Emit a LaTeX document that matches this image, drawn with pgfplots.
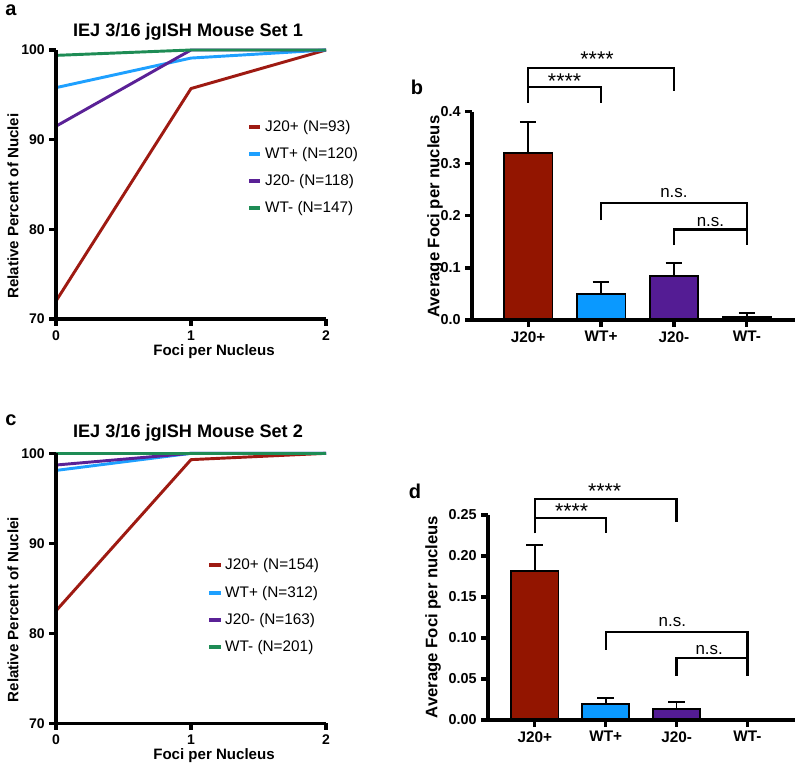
\documentclass[border=0pt]{standalone}
\usepackage{fontspec}
\setmainfont{Liberation Sans}
\usepackage{pgfplots}
\pgfplotsset{compat=1.18}
\definecolor{cred}{HTML}{9E1A12}
\definecolor{cblue}{HTML}{1EA0FF}
\definecolor{cpurple}{HTML}{5A2196}
\definecolor{cgreen}{HTML}{1E8C55}
\definecolor{bred}{HTML}{931500}
\definecolor{bblue}{HTML}{0A99FF}
\definecolor{bpurple}{HTML}{541C94}
\definecolor{bgreen}{HTML}{1E7A45}
\tikzset{br/.style={line width=1.7pt, black},
  axl/.style={line width=2.4pt, black, line join=miter},
  ast/.style={font=\fontsize{16}{17}\selectfont, inner sep=0pt, anchor=north},
  ns/.style={font=\fontsize{12.7}{14}\selectfont, inner sep=0pt}}
\pgfplotsset{
 base/.style={scale only axis, axis lines=left, axis line style={-, line width=2.4pt},
   tick align=outside, major tick length=5pt, tick style={line width=1.8pt, black},
   minor tick num=0,
   ticklabel style={font=\fontsize{10.5}{12}\selectfont\bfseries},
   /pgf/number format/assume math mode=true, clip=false},
 lineaxis/.style={base, width=202.5pt, xmin=0, xmax=2, ymin=70, ymax=100,
   xtick={0,1,2}, ytick={70,80,90,100}, legend cell align=left,
   legend style={draw=none, fill=none, inner sep=0pt, font=\fontsize{11.5}{13}\selectfont, row sep=6.5pt, anchor=north west},
   legend image code/.code={\draw[line width=3pt] (0pt,0pt) -- (8.5pt,0pt);}},
 barax/.style={base, xtick={0,1,2,3}, xticklabels={J20+,WT+,J20-,WT-}, ybar, bar shift=0pt, bar width=0.667,
   scaled y ticks=false,
   xticklabel style={font=\fontsize{11.5}{13}\selectfont\bfseries},
   yticklabel style={font=\fontsize{10.8}{13}\selectfont\bfseries, /pgf/number format/fixed, /pgf/number format/fixed zerofill},
   every axis plot/.append style={draw=black, line width=1.3pt,
     error bars/y dir=plus, error bars/y explicit,
     error bars/error mark options={rotate=90, black, line width=1.3pt, mark size=6.25pt},
     error bars/error bar style={line width=1.3pt, black}}},
}
\begin{document}
\begin{tikzpicture}
\useasboundingbox (0,0) rectangle (600pt,575.25pt);
% ---------- panel a
\begin{axis}[lineaxis, height=201.75pt, at={(42pt,336pt)}, anchor=south west,
  legend style={at={(rel axis cs:0.707,0.75)}}]
\addplot[cred, line width=2.2pt, line join=round] coordinates {(0,72.0) (1,95.7) (2,100)};
\addlegendentry{J20+ (N=93)}
\addplot[cblue, line width=2.2pt, line join=round] coordinates {(0,95.8) (1,99.1) (2,100)};
\addlegendentry{WT+ (N=120)}
\addplot[cpurple, line width=2.2pt, line join=round] coordinates {(0,91.5) (1,100) (2,100)};
\addlegendentry{J20- (N=118)}
\addplot[cgreen, line width=2.2pt, line join=round] coordinates {(0,99.4) (1,100) (2,100)};
\addlegendentry{WT- (N=147)}
\draw[axl] (axis cs:0,100) -- (axis cs:0,70) -- (axis cs:2,70)
  (axis cs:0,70) -- ++(0pt,-5pt) (axis cs:1,70) -- ++(0pt,-5pt) (axis cs:2,70) -- ++(0pt,-5pt)
  (axis cs:0,70) -- ++(-5pt,0pt) (axis cs:0,80) -- ++(-5pt,0pt) (axis cs:0,90) -- ++(-5pt,0pt) (axis cs:0,100) -- ++(-5pt,0pt);
\end{axis}
% ---------- panel c
\begin{axis}[lineaxis, height=202.5pt, at={(42pt,32.75pt)}, anchor=south west,
  legend style={at={(rel axis cs:0.559,0.62)}}]
\addplot[cred, line width=2.2pt, line join=round] coordinates {(0,82.5) (1,99.3) (2,100)};
\addlegendentry{J20+ (N=154)}
\addplot[cblue, line width=2.2pt, line join=round] coordinates {(0,98.1) (1,100) (2,100)};
\addlegendentry{WT+ (N=312)}
\addplot[cpurple, line width=2.2pt, line join=round] coordinates {(0,98.7) (1,100) (2,100)};
\addlegendentry{J20- (N=163)}
\addplot[cgreen, line width=2.2pt, line join=round] coordinates {(0,100) (1,100) (2,100)};
\addlegendentry{WT- (N=201)}
\draw[axl] (axis cs:0,100) -- (axis cs:0,70) -- (axis cs:2,70)
  (axis cs:0,70) -- ++(0pt,-5pt) (axis cs:1,70) -- ++(0pt,-5pt) (axis cs:2,70) -- ++(0pt,-5pt)
  (axis cs:0,70) -- ++(-5pt,0pt) (axis cs:0,80) -- ++(-5pt,0pt) (axis cs:0,90) -- ++(-5pt,0pt) (axis cs:0,100) -- ++(-5pt,0pt);
\end{axis}
% ---------- panel b
\begin{axis}[barax, width=242.25pt, height=156.2pt, at={(354pt,335.25pt)}, anchor=south west,
  xmin=-0.77, xmax=3.66, ymin=0, ymax=0.4, ytick={0,0.1,0.2,0.3,0.4},
  yticklabel style={/pgf/number format/precision=1}]
\addplot[fill=bred] coordinates {(0,0.321) +- (0,0.059)};
\addplot[fill=bblue] coordinates {(1,0.0493) +- (0,0.0231)};
\addplot[fill=bpurple] coordinates {(2,0.0845) +- (0,0.0249)};
\addplot[fill=bgreen] coordinates {(3,0.0064) +- (0,0.0064)};
\draw[axl] (axis cs:-0.77,0.4) -- (axis cs:-0.77,0) -- (axis cs:3.66,0)
  (axis cs:0,0) -- ++(0pt,-5pt) (axis cs:1,0) -- ++(0pt,-5pt) (axis cs:2,0) -- ++(0pt,-5pt) (axis cs:3,0) -- ++(0pt,-5pt)
  (axis cs:-0.77,0) -- ++(-5pt,0pt) (axis cs:-0.77,0.1) -- ++(-5pt,0pt) (axis cs:-0.77,0.2) -- ++(-5pt,0pt) (axis cs:-0.77,0.3) -- ++(-5pt,0pt) (axis cs:-0.77,0.4) -- ++(-5pt,0pt);
\draw[br] (axis cs:0,0.4173) -- (axis cs:0,0.4833) -- (axis cs:2,0.4833) -- (axis cs:2,0.4398);
\draw[br] (axis cs:0,0.4469) -- (axis cs:1,0.4469) -- (axis cs:1,0.4173);
\node[ast] at (axis cs:0.945,0.5152) {****};
\node[ast] at (axis cs:0.5,0.4737) {****};
\draw[br] (axis cs:1,0.192) -- (axis cs:1,0.224) -- (axis cs:3,0.224) -- (axis cs:3,0.144);
\draw[br] (axis cs:2,0.144) -- (axis cs:2,0.174) -- (axis cs:3,0.174);
\node[ns] at (axis cs:2.0,0.243) {n.s.};
\node[ns] at (axis cs:2.5,0.189) {n.s.};
\end{axis}
% ---------- panel d
\begin{axis}[barax, width=230.25pt, height=153.75pt, at={(366pt,35.25pt)}, anchor=south west,
  xmin=-0.66, xmax=3.67, ymin=0, ymax=0.25, ytick={0,0.05,0.1,0.15,0.2,0.25},
  yticklabel style={/pgf/number format/precision=2}]
\addplot[fill=bred] coordinates {(0,0.1817) +- (0,0.0317)};
\addplot[fill=bblue] coordinates {(1,0.0195) +- (0,0.0077)};
\addplot[fill=bpurple] coordinates {(2,0.0130) +- (0,0.0086)};
\addplot[fill=bgreen, error bars/y explicit=false, error bars/y dir=none] coordinates {(3,0)};
\draw[axl] (axis cs:-0.66,0.25) -- (axis cs:-0.66,0) -- (axis cs:3.67,0)
  (axis cs:0,0) -- ++(0pt,-5pt) (axis cs:1,0) -- ++(0pt,-5pt) (axis cs:2,0) -- ++(0pt,-5pt) (axis cs:3,0) -- ++(0pt,-5pt)
  (axis cs:-0.66,0) -- ++(-5pt,0pt) (axis cs:-0.66,0.05) -- ++(-5pt,0pt) (axis cs:-0.66,0.1) -- ++(-5pt,0pt) (axis cs:-0.66,0.15) -- ++(-5pt,0pt) (axis cs:-0.66,0.2) -- ++(-5pt,0pt) (axis cs:-0.66,0.25) -- ++(-5pt,0pt);
\draw[br] (axis cs:0,0.2277) -- (axis cs:0,0.2691) -- (axis cs:2,0.2691) -- (axis cs:2,0.2418);
\draw[br] (axis cs:0,0.2467) -- (axis cs:1,0.2467) -- (axis cs:1,0.2277);
\node[ast] at (axis cs:0.986,0.2887) {****};
\node[ast] at (axis cs:0.52,0.2643) {****};
\draw[br] (axis cs:1,0.0854) -- (axis cs:1,0.107) -- (axis cs:3,0.107) -- (axis cs:3,0.0537);
\draw[br] (axis cs:2,0.0537) -- (axis cs:2,0.0752) -- (axis cs:3,0.0752);
\node[ns] at (axis cs:1.94,0.12) {n.s.};
\node[ns] at (axis cs:2.46,0.0854) {n.s.};
\end{axis}
% ---------- texts
\node[font=\fontsize{15}{17}\selectfont\bfseries] at (8.25pt,567.75pt) {a};
\node[font=\fontsize{15}{17}\selectfont\bfseries] at (312.75pt,510pt) {b};
\node[font=\fontsize{15}{17}\selectfont\bfseries] at (8.25pt,260.25pt) {c};
\node[font=\fontsize{15}{17}\selectfont\bfseries] at (311.25pt,207pt) {d};
\node[font=\fontsize{13.6}{16}\selectfont\bfseries] at (141pt,551.25pt) {IEJ 3/16 jgISH Mouse Set 1};
\node[font=\fontsize{13.6}{16}\selectfont\bfseries] at (141pt,250.5pt) {IEJ 3/16 jgISH Mouse Set 2};
\node[font=\fontsize{11.3}{13}\selectfont\bfseries] at (160.5pt,311.25pt) {Foci per Nucleus};
\node[font=\fontsize{11.3}{13}\selectfont\bfseries] at (160.5pt,8.25pt) {Foci per Nucleus};
\node[font=\fontsize{11.3}{13}\selectfont\bfseries, rotate=90] at (9.75pt,420.75pt) {Relative Percent of Nuclei};
\node[font=\fontsize{11.3}{13}\selectfont\bfseries, rotate=90] at (9.75pt,118.1pt) {Relative Percent of Nuclei};
\node[font=\fontsize{12.5}{14}\selectfont\bfseries, rotate=90] at (326.25pt,412.7pt) {Average Foci per nucleus};
\node[font=\fontsize{12.5}{14}\selectfont\bfseries, rotate=90] at (324.75pt,112.5pt) {Average Foci per nucleus};
\end{tikzpicture}
\end{document}
